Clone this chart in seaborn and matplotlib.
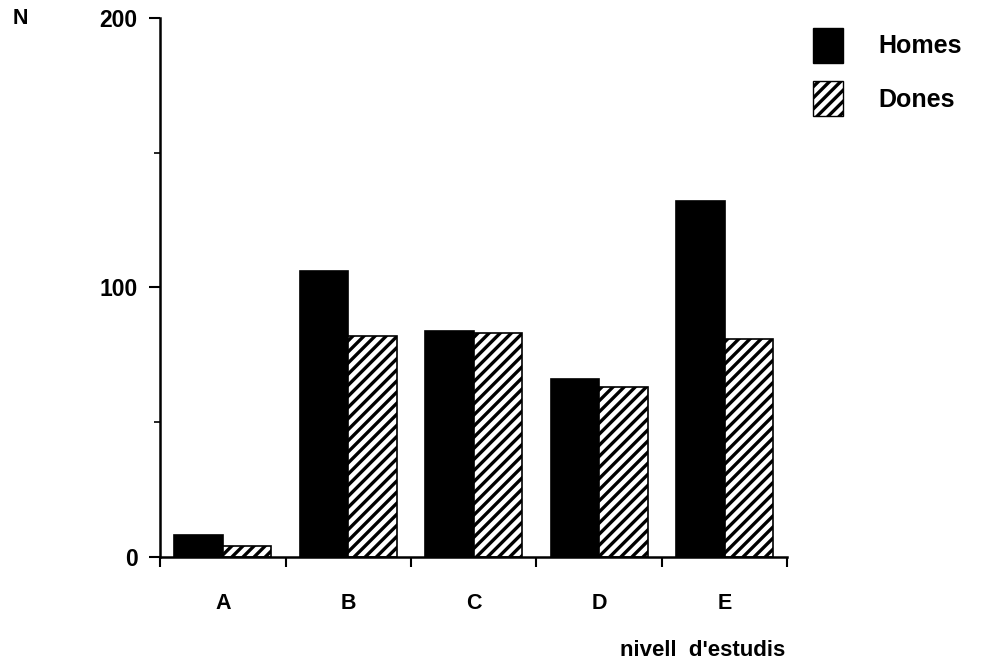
import matplotlib
matplotlib.use("Agg")
import matplotlib.pyplot as plt
import seaborn as sns
import pandas as pd
from matplotlib.patches import Patch

# Data
levels = ["A", "B", "C", "D", "E"]
homes = [8, 106, 84, 66, 132]
dones = [4, 82, 83, 63, 81]
series_names = ["Homes", "Dones"]

df = pd.DataFrame({
    "nivell": levels * 2,
    "N": homes + dones,
    "sexe": [series_names[0]] * len(levels) + [series_names[1]] * len(levels),
})

sns.set_style("ticks")
plt.rcParams["font.family"] = ["Liberation Sans", "DejaVu Sans"]
plt.rcParams["font.weight"] = "bold"
plt.rcParams["text.color"] = "black"
plt.rcParams["axes.edgecolor"] = "black"
plt.rcParams["xtick.color"] = "black"
plt.rcParams["ytick.color"] = "black"
plt.rcParams["hatch.linewidth"] = 2.4
plt.rcParams["hatch.color"] = "black"

fig = plt.figure(figsize=(9.88, 6.67), dpi=100)
ax = fig.add_axes([0.162, 0.165, 0.635, 0.808])

sns.barplot(data=df, x="nivell", y="N", hue="sexe", order=levels,
            hue_order=series_names, palette=["black", "white"],
            width=0.77, edgecolor="black", linewidth=1.2,
            saturation=1, legend=False, ax=ax)

# hatch the "Dones" bars
for bar in ax.containers[1]:
    bar.set_hatch("///")
    bar.set_facecolor("white")
    bar.set_edgecolor("black")

ax.set_ylim(0, 200)
ax.set_xlim(-0.5, len(levels) - 0.5)
ax.set_yticks([0, 100, 200])
ax.set_yticklabels(["0", "100", "200"], fontsize=16.5, fontweight="bold")
ax.set_yticks([50, 150], minor=True)
ax.tick_params(axis="y", which="major", direction="out", length=8, width=1.5, pad=8)
ax.tick_params(axis="y", which="minor", direction="out", length=4, width=1.2)

# category boundaries as tick marks, letters in between
ax.set_xticks([i - 0.5 for i in range(len(levels) + 1)])
ax.set_xticklabels([])
ax.set_xticks(range(len(levels)), minor=True)
ax.set_xticklabels(levels, minor=True, fontsize=15.5, fontweight="bold")
ax.tick_params(axis="x", which="major", direction="out", length=7, width=1.5)
ax.tick_params(axis="x", which="minor", length=0, pad=26)

ax.set_xlabel("")
ax.set_ylabel("")
sns.despine(ax=ax)
for s in ["left", "bottom"]:
    ax.spines[s].set_linewidth(1.8)

fig.text(0.013, 0.973, "N", fontsize=15.5, fontweight="bold", va="center")
fig.text(0.795, 0.025, "nivell  d'estudis", fontsize=16, fontweight="bold",
         ha="right", va="center")

handles = [Patch(facecolor="black", edgecolor="black"),
           Patch(facecolor="white", edgecolor="black", hatch="///")]
fig.legend(handles, series_names, loc="upper left", bbox_to_anchor=(0.823, 0.958),
           frameon=False, prop={"size": 18, "weight": "bold"}, borderaxespad=0,
           borderpad=0, handlelength=1.2, handleheight=1.75, handletextpad=1.4,
           labelspacing=0.75)

fig.savefig("out.png", dpi=100)
